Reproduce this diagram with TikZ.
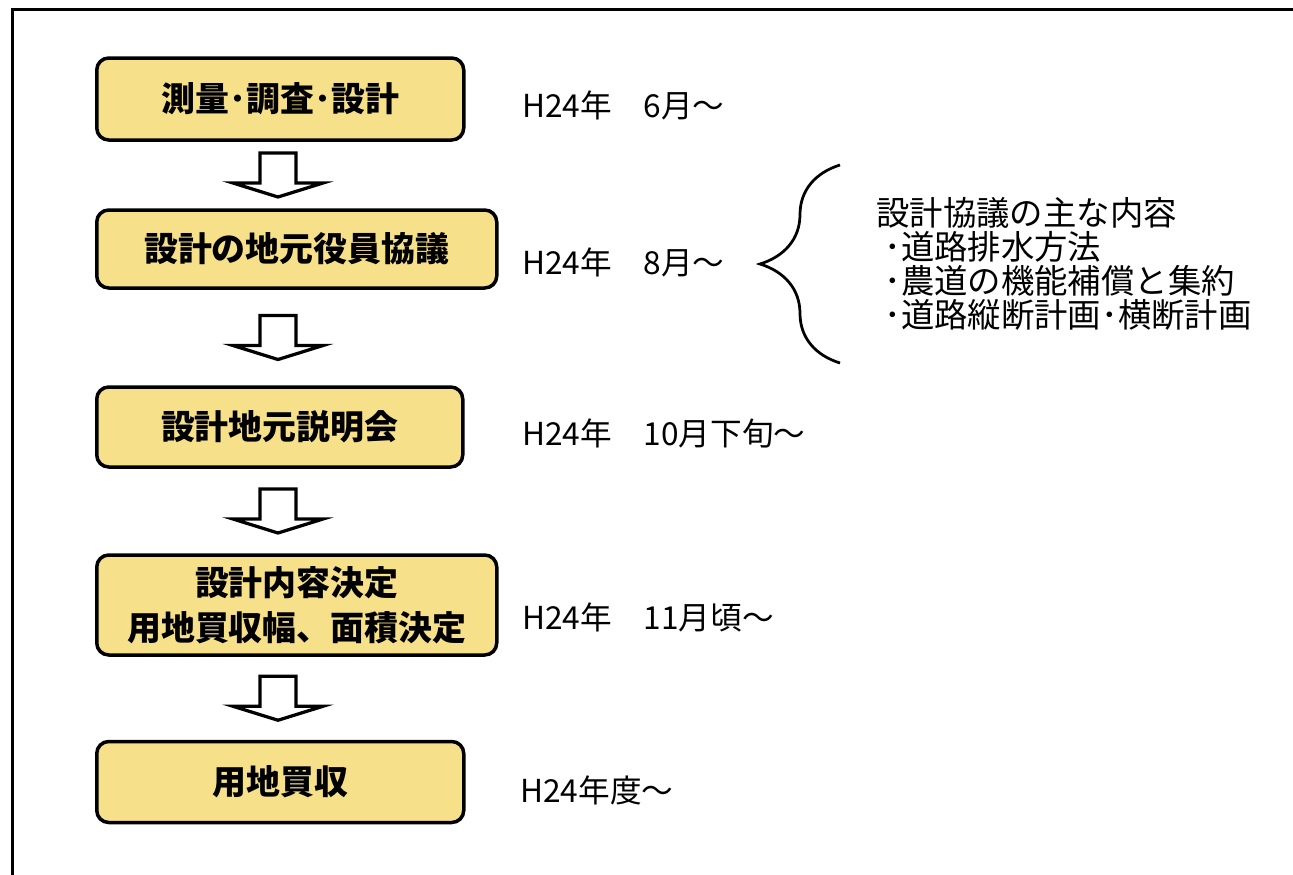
\documentclass[tikz,border=0pt]{standalone}
\usepackage{fontspec}
\setmainfont{Noto Sans CJK JP}
\usetikzlibrary{calc,decorations.pathreplacing}
\definecolor{boxyellow}{RGB}{247,224,138}
\begin{document}
\begin{tikzpicture}[x=0.2mm,y=-0.2mm,
        stepbox/.style={draw,line width=0.7mm,rounded corners=2.4mm,fill=boxyellow,anchor=west,align=center,inner sep=0pt,font=\fontsize{19.3}{25.6}\selectfont\bfseries},
        datetext/.style={anchor=west,inner sep=0pt,font=\fontsize{18}{20}\selectfont},
        downarrow/.pic={\draw[line width=0.65mm,fill=white,line join=miter] (-18,-22) -- (18,-22) -- (18,8) -- (45,8) -- (0,22) -- (-45,8) -- (-18,8) -- cycle;}]
    \path[clip] (0,0) rectangle (1293,874);
    \fill[white] (0,0) rectangle (1293,874);
    \draw[line width=0.6mm] (12,900) -- (12,9) -- (1320,9);
    % steps
    \node[stepbox,minimum width=73.4mm,minimum height=16.4mm] (survey) at (95,99) {測量･調査･設計};
    \node[stepbox,minimum width=80mm,minimum height=15.6mm] (talks) at (95,249) {設計の地元役員協議};
    \node[stepbox,minimum width=73.2mm,minimum height=16mm] (meeting) at (95,427) {設計地元説明会};
    \node[stepbox,minimum width=80mm,minimum height=20mm] (decide) at (95,605) {設計内容決定\\用地買収幅、面積決定};
    \node[stepbox,minimum width=73.4mm,minimum height=16.2mm] (purchase) at (95,782) {用地買収};
    % dates
    \node[datetext] (d1) at (522,105) {H24年　6月～};
    \node[datetext] (d2) at (522,262) {H24年　8月～};
    \node[datetext] (d3) at (522,433) {H24年　10月下旬～};
    \node[datetext] (d4) at (522,617) {H24年　11月頃～};
    \node[datetext] (d5) at (520,790) {H24年度～};
    % arrows
    \coordinate (axis) at (278,0);
    \foreach \a/\b [count=\i] in {survey/talks,talks/meeting,meeting/decide,decide/purchase} {
        \coordinate (m\i) at ($(\a.south)!0.5!(\b.north)$);
        \pic at (axis |- m\i) {downarrow};
    }
    % contents of the talks
    \node[anchor=west,align=left,inner sep=0pt,font=\fontsize{19}{19.4}\selectfont] (contents) at (876,264)
        {設計協議の主な内容\\\hspace{1.6mm}･道路排水方法\\\hspace{1.6mm}･農道の機能補償と集約\\\hspace{1.6mm}･道路縦断計画･横断計画};
    \draw[line width=0.55mm,decorate,decoration={brace,amplitude=16mm}] (840,363) -- (840,165);
\end{tikzpicture}
\end{document}
